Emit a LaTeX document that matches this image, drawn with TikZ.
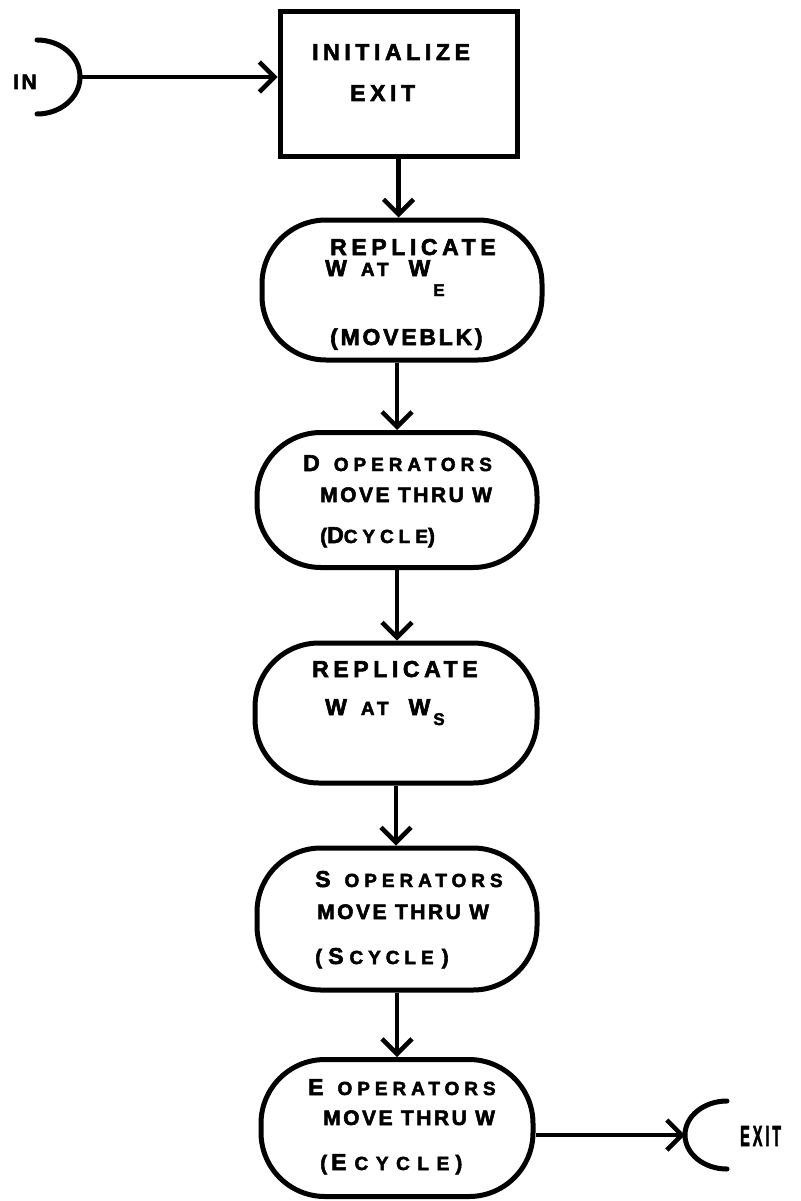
\documentclass[tikz,border=0pt]{standalone}
\usepackage{fontspec}
\usepackage{graphicx}
\setmainfont{Liberation Sans}
\newfontfamily\handA{Liberation Sans}[LetterSpace=20, BoldFeatures={FakeBold=2.5}]
\newfontfamily\handB{Liberation Sans}[LetterSpace=26, BoldFeatures={FakeBold=2.5}]
\newfontfamily\handC{Liberation Sans}[LetterSpace=12, BoldFeatures={FakeBold=2.5}]
\newfontfamily\handD{Liberation Sans}[LetterSpace=40, BoldFeatures={FakeBold=2.5}]
\usetikzlibrary{arrows.meta}
\newcommand\hLg{\fontsize{23}{26}\selectfont}
\newcommand\hMd{\handC\fontsize{21}{23}\selectfont}
\newcommand\hSm{\fontsize{19}{21}\selectfont}
\newcommand\hXs{\fontsize{17}{19}\selectfont}
\tikzset{
  boxr/.style={draw, line width=5pt, rectangle, minimum width=237pt, minimum height=145pt, inner sep=0pt},
  stad/.style={draw, line width=5pt, rectangle, rounded corners=64pt, inner sep=0pt},
  lbl/.style={inner sep=0pt, anchor=base west, font=\handA\bfseries},
  flow/.style={line width=4.5pt, -{Straight Barb[length=15pt,width=30pt]}},
  term/.style={line width=5pt, line cap=round}
}
\begin{document}
\begin{tikzpicture}[x=1pt,y=-1pt]
\fill[white] (0,0) rectangle (800,1201);
\useasboundingbox (0,0) rectangle (800,1201);
% boxes
\node[boxr] (init) at (398.5,84.5) {};
\node[stad, minimum width=280pt, minimum height=140pt] (s1) at (402,290) {};
\node[stad, minimum width=280pt, minimum height=135pt] (s2) at (397,500) {};
\node[stad, minimum width=282pt, minimum height=140pt] (s3) at (396,713) {};
\node[stad, minimum width=280pt, minimum height=142pt] (s4) at (397,919) {};
\node[stad, minimum width=272pt, minimum height=137pt] (s5) at (397,1128) {};
% texts
\node[lbl] (tInitA) at (312,60) {\hLg INITIALIZE};
\node[lbl] (tInitB) at (350,101) {\hLg EXIT};
\node[lbl] (t1a) at (330,255) {\hLg REPLICATE};
\node[lbl] (t1b) at (325,276) {\hLg W\hspace{14pt}{\hSm AT}\hspace{20pt}W\hspace{3pt}\raisebox{-20pt}{\hXs E}};
\node[lbl] (t1c) at (330,345) {\handC\fontsize{23}{25}\selectfont (MOVEBLK)};
\node[lbl] (t2a) at (303,471) {\hLg D\hspace{14pt}{\handB\hSm OPERATORS}};
\node[lbl] (t2b) at (320,502) {\hMd MOVE THRU W};
\node[lbl] (t2c) at (320,543) {{\hMd (}{\hLg D}{\handB\hSm CYCLE}{\hMd )}};
\node[lbl] (t3a) at (312,677) {\hLg REPLICATE};
\node[lbl] (t3b) at (325,715) {\hLg W\hspace{14pt}{\hSm AT}\hspace{20pt}W\hspace{3pt}\raisebox{-10pt}{\hXs S}};
\node[lbl] (t4a) at (315,887) {\hLg S\hspace{14pt}{\handB\hSm OPERATORS}};
\node[lbl] (t4b) at (317,919) {\hMd MOVE THRU W};
\node[lbl] (t4c) at (315,964) {{\hMd (}\hspace{6pt}{\hLg S}\hspace{6pt}{\handB\hSm CYCLE}\hspace{8pt}{\hMd )}};
\node[lbl] (t5a) at (308,1095) {\hLg E\hspace{14pt}{\handB\hSm OPERATORS}};
\node[lbl] (t5b) at (323,1125) {\hMd MOVE THRU W};
\node[lbl] (t5c) at (320,1170) {{\hMd (}\hspace{4pt}{\hLg E}\hspace{8pt}{\handD\hSm CYCLE}\hspace{6pt}{\hMd )}};
% terminals
\coordinate (inT) at (80,77);
\draw[term] ([shift={(-43,-37)}]inT) arc[start angle=90, end angle=-90, x radius=43pt, y radius=37pt];
\node[lbl] (tIn) at (13,89) {\hMd IN};
\coordinate (exitT) at (685,1135);
\draw[term] ([shift={(42,-34)}]exitT) arc[start angle=90, end angle=270, x radius=42pt, y radius=34pt];
\node[lbl] (tExit) at (740,1146) {\scalebox{0.5}[1]{\fontsize{29}{30}\selectfont EXIT}};
% connectors
\draw[flow] (inT) -- (init.west |- inT);
\draw[flow] (init.south) -- (init.south |- s1.north);
\draw[flow] (s2.north |- s1.south) -- (s2.north);
\draw[flow] (s2.south) -- (s2.south |- s3.north);
\draw[flow] (s3.south) -- (s3.south |- s4.north);
\draw[flow] (s4.south) -- (s4.south |- s5.north);
\draw[flow] (s5.east |- exitT) -- (exitT);
\end{tikzpicture}
\end{document}
